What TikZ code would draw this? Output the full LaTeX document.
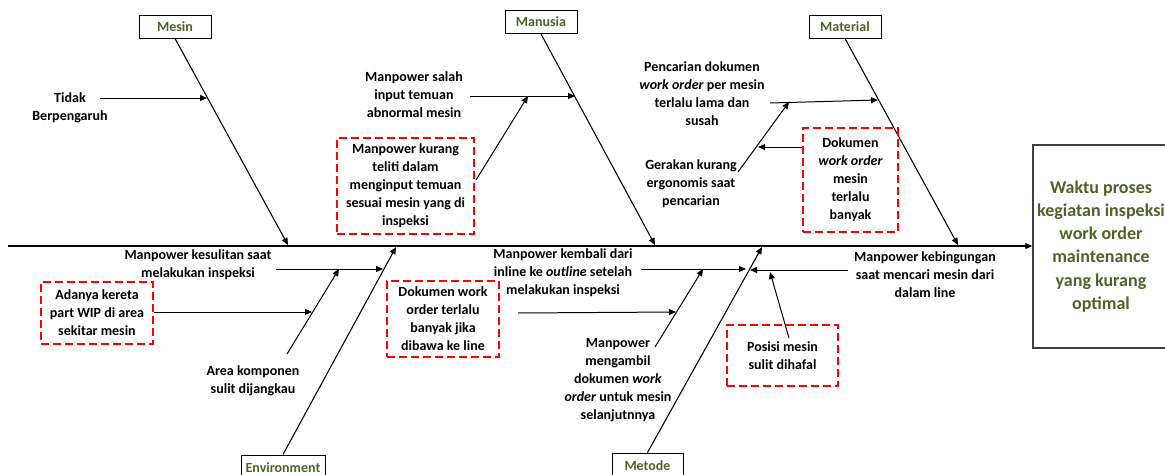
\documentclass[tikz,border=0pt]{standalone}
\usepackage{fontspec}
\setmainfont{Carlito}
\usetikzlibrary{arrows.meta,calc}
\newdimen\pxu \pxu=0.75pt
\definecolor{catgreen}{HTML}{4F6228}
\definecolor{effgray}{HTML}{404040}
\tikzset{
  arr/.style={-{Triangle[length=5.25pt,width=4.5pt]}, line width=0.75pt, draw=black},
  bone/.style={-{Triangle[length=5.25pt,width=4.5pt]}, line width=0.8pt, draw=black},
  lbl/.style={font=\fontsize{10.5}{13.5}\selectfont\bfseries, align=center, inner sep=0pt},
  redbox/.style={lbl, draw=red, dash pattern=on 6pt off 3pt, line width=1.2pt},
  cat/.style={draw=black, line width=0.75pt, text=catgreen, font=\fontsize{10.5}{13}\selectfont\bfseries, inner sep=0pt, minimum width=54pt, minimum height=17.25pt},
  effect/.style={draw=effgray, line width=1.1pt, text=catgreen, font=\fontsize{13.5}{17.3}\selectfont\bfseries, align=center, inner sep=0pt, minimum width=102pt, minimum height=152.25pt}
}
\begin{document}
\begin{tikzpicture}[x=0.75pt,y=-0.75pt]
\useasboundingbox (0,0) rectangle (1165,475);
\clip (0,0) rectangle (1165,475);

% effect
\node[effect] (eff) at (1101,246.5) {Waktu proses\\kegiatan inspeksi\\work order\\maintenance\\yang kurang\\optimal};

% categories
\node[cat] (mesin) at (175,26.5) {Mesin};
\node[cat] (manusia) at (541,22) {Manusia};
\node[cat] (material) at (845,26.5) {Material};
\node[cat, minimum width=63pt, minimum height=18.75pt] (env) at (283,467.5) {Environment};
\node[cat, minimum width=53.25pt, minimum height=18.75pt] (metode) at (647.5,465.5) {Metode};

% spine
\coordinate (spL) at (8,246);
\draw[bone] (spL) -- (eff.west |- spL);

% bone tips
\coordinate (mesT) at (288,245);
\coordinate (manT) at (655,245);
\coordinate (matT) at (958,245);
\coordinate (envT) at (396,247);
\coordinate (metT) at (762,247);
\draw[bone] (mesin.south) -- (mesT);
\draw[bone] (manusia.south) -- (manT);
\draw[bone] (material.south) -- (matT);
\draw[bone] (env.north) -- (envT);
\draw[bone] (metode.north) -- (metT);

% ---- Mesin
\node[lbl] (tidak) at (70,108) {Tidak\\Berpengaruh};
\coordinate (tidakS) at (100,98);
\coordinate (tidakE) at (207,98);
\draw[arr] (tidakS) -- (tidakE);

\node[lbl] (sulit) at (198,265) {Manpower kesulitan saat\\melakukan inspeksi};
\coordinate (sulitS) at (276,269);
\coordinate (sulitE) at (383,269);
\draw[arr] (sulitS) -- (sulitE);

\node[redbox, minimum width=84pt, minimum height=46.5pt] (kereta) at (97,313) {Adanya kereta\\part WIP di area\\sekitar mesin};
\coordinate (keretaE) at (312,312);
\draw[arr] (kereta.east |- keretaE) -- (keretaE);

\node[lbl] (area) at (253,381) {Area komponen\\sulit dijangkau};
\coordinate (areaS) at (287,354);
\coordinate (areaE) at (339,269);
\draw[arr] (areaS) -- (areaE);

% ---- Manusia
\node[lbl] (salah) at (414,95) {Manpower salah\\input temuan\\abnormal mesin};
\coordinate (salahS) at (470,96);
\coordinate (salahE) at (575,96);
\draw[arr] (salahS) -- (salahE);

\node[redbox, minimum width=102.75pt, minimum height=72pt] (teliti) at (405.5,186) {Manpower kurang\\teliti dalam\\menginput temuan\\sesuai mesin yang di\\inspeksi};
\coordinate (telitiS) at (476,180);
\coordinate (telitiE) at (528,96);
\draw[arr] (telitiS) -- (telitiE);

\node[lbl] (kembali) at (563,273) {Manpower kembali dari\\inline ke \textit{outline} setelah\\melakukan inspeksi};
\coordinate (kembaliS) at (641,269);
\coordinate (kembaliE) at (746,269);
\draw[arr] (kembaliS) -- (kembaliE);

\node[redbox, minimum width=84pt, minimum height=57pt] (dokwork) at (443,319) {Dokumen work\\order terlalu\\banyak jika\\dibawa ke line};
\coordinate (dokworkS) at (518,313);
\coordinate (dokworkE) at (676,312);
\draw[arr] (dokworkS) -- (dokworkE);

\node[lbl] (ambil) at (618,380.5) {Manpower\\mengambil\\dokumen \textit{work}\\\textit{order} untuk mesin\\selanjutnnya};
\coordinate (ambilS) at (655,347);
\coordinate (ambilE) at (703,269);
\draw[arr] (ambilS) -- (ambilE);

% ---- Material
\node[lbl] (cari) at (702,93.5) {Pencarian dokumen\\\textit{work order} per mesin\\terlalu lama dan\\susah};
\coordinate (cariS) at (770,103);
\coordinate (cariE) at (878,100);
\draw[arr] (cariS) -- (cariE);

\node[lbl] (gerak) at (691,184) {Gerakan kurang\\ergonomis saat\\pencarian};
\coordinate (gerakS) at (738,172);
\coordinate (gerakE) at (789,102);
\draw[arr] (gerakS) -- (gerakE);

\node[redbox, minimum width=71.25pt, minimum height=78pt] (dokmat) at (850.5,180) {Dokumen\\\textit{work order}\\mesin\\terlalu\\banyak};
\coordinate (dokmatE) at (758,147);
\draw[arr] (dokmat.west |- dokmatE) -- (dokmatE);

\node[lbl] (bingung) at (925,275) {Manpower kebingungan\\saat mencari mesin dari\\dalam line};
\coordinate (bingungS) at (848,270);
\coordinate (bingungE) at (750,270);
\draw[arr] (bingungS) -- (bingungE);

\node[redbox, minimum width=83.25pt, minimum height=45.75pt] (posisi) at (782.5,355.5) {Posisi mesin\\sulit dihafal};
\coordinate (posisiS) at (789,338);
\coordinate (posisiE) at (770,272);
\draw[arr] (posisiS) -- (posisiE);
\end{tikzpicture}
\end{document}
